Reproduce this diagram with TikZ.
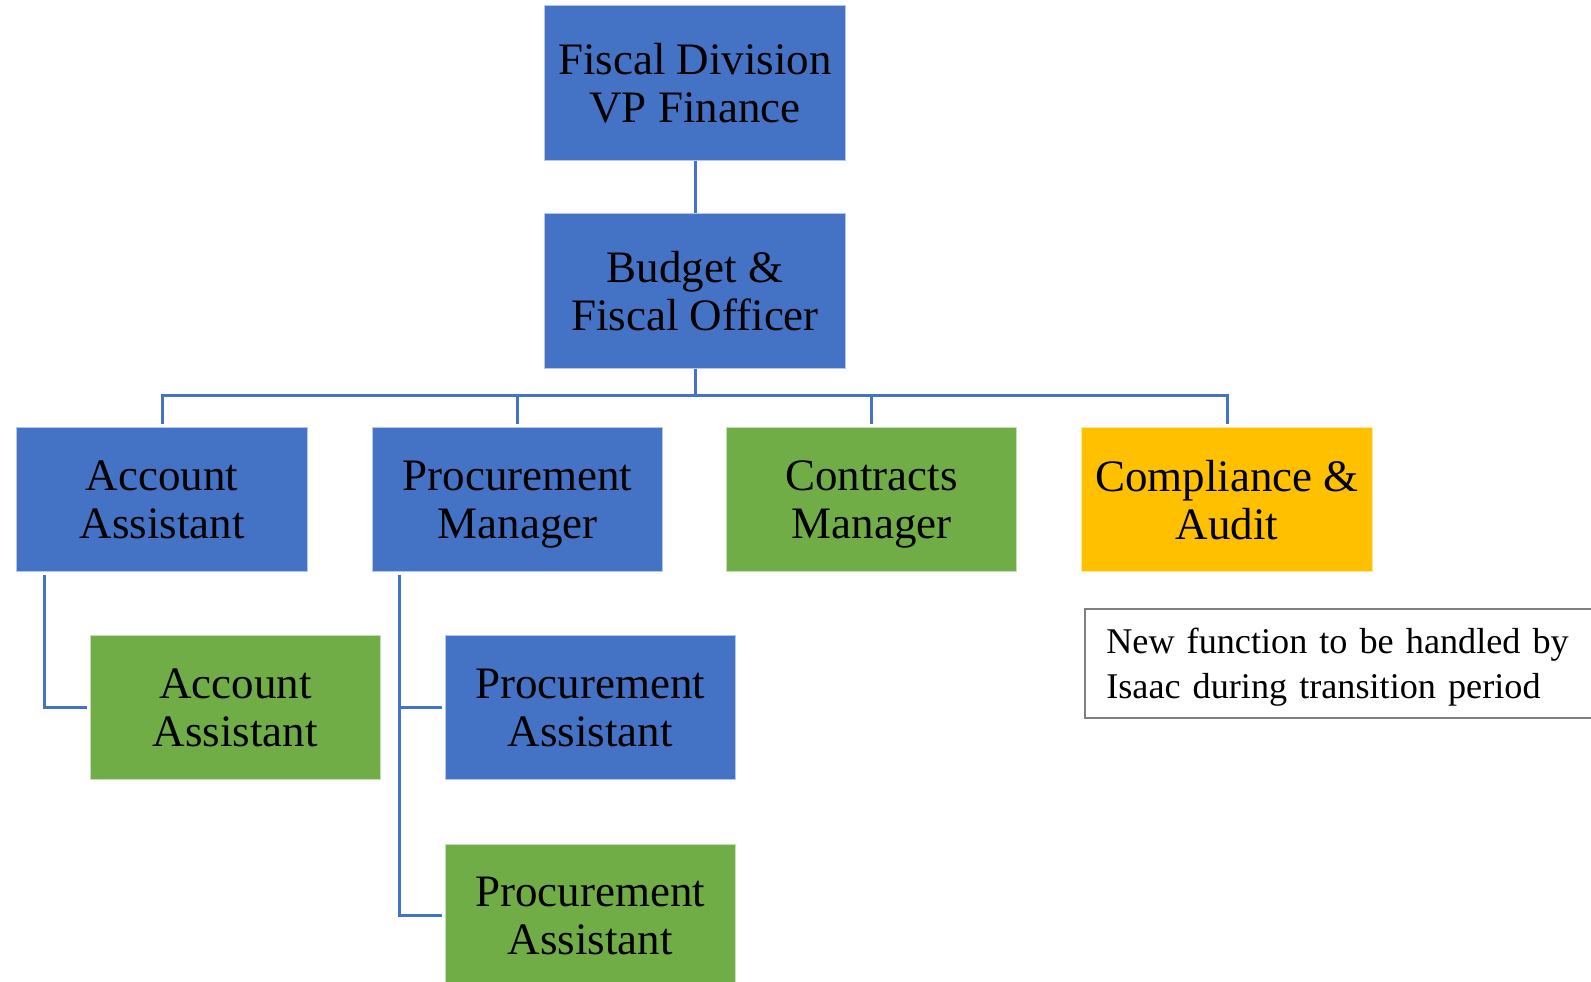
\documentclass[tikz,border=0pt]{standalone}
\usepackage{fontspec}
\setmainfont{Liberation Serif}
\definecolor{obl}{HTML}{4472C4}
\definecolor{ogr}{HTML}{70AD47}
\definecolor{oyl}{HTML}{FFC000}
\definecolor{ogy}{HTML}{7F7F7F}
\newcommand\nodep[1]{\raisebox{0pt}[\height][0pt]{#1}}
\begin{document}
\begin{tikzpicture}[x=1pt,y=-1pt,
  box/.style={rectangle, draw=white!60!obl, line width=1pt, inner sep=0pt, align=center,
    minimum width=290.5pt, minimum height=143.6pt, text=black,
    font=\fontsize{45}{48}\selectfont},
  bluebox/.style={box, fill=obl},
  greenbox/.style={box, fill=ogr, draw=white!60!ogr},
  goldbox/.style={box, fill=oyl, draw=white!60!oyl},
  topbox/.style={bluebox, minimum width=301.4pt, minimum height=154.3pt},
  conn/.style={draw=obl, line width=3pt},
  notebox/.style={rectangle, draw=ogy, line width=2pt, fill=white, anchor=north west,
    minimum width=536pt, minimum height=108.4pt, inner xsep=21pt, inner ysep=0pt,
    text width=494pt, align=left, font=\fontsize{36.2}{44.5}\selectfont}]
\useasboundingbox (0,0) rectangle (1591,982);
\clip (0,0) rectangle (1591,982);
\fill[white] (0,0) rectangle (1591,982);

\node[topbox] (vp) at (695,82.9) {Fiscal Division\\\nodep{VP Finance}};
\node[topbox] (bud) at (695,291) {Budget \&\\\nodep{Fiscal Officer}};

\node[bluebox] (aa) at (162.2,499.5) {Account\\\nodep{Assistant}};
\node[bluebox] (pm) at (517.5,499.5) {Procurement\\\nodep{Manager}};
\node[greenbox] (cm) at (871.6,499.5) {Contracts\\\nodep{Manager}};
\node[goldbox] (ca) at (1227,499.5) {Compliance \&\\\nodep{Audit}};

\node[greenbox] (aa2) at (235.3,707.5) {Account\\\nodep{Assistant}};
\node[bluebox] (pa1) at (590.3,707.5) {Procurement\\\nodep{Assistant}};
\node[greenbox] (pa2) at (590.3,915.8) {Procurement\\\nodep{Assistant}};

\node[notebox] (note) at (1084.3,608.3) {New function to be handled by\\\nodep{Isaac during transition period}};

\draw[conn] (vp.south) -- (bud.north);
\draw[conn] (bud.south) -- ++(0,27) coordinate (bus);
\foreach \n in {aa,pm,cm,ca}
  \draw[conn, shorten >=3pt] (bus) -| (\n.north);

\draw[conn, shorten >=3pt] ([shift={(27.7,3)}]aa.south west) |- (aa2.west);
\draw[conn, shorten >=3pt] ([shift={(27.6,3)}]pm.south west) |- (pa1.west);
\draw[conn, shorten >=3pt] ([shift={(27.6,3)}]pm.south west) |- (pa2.west);
\end{tikzpicture}
\end{document}
